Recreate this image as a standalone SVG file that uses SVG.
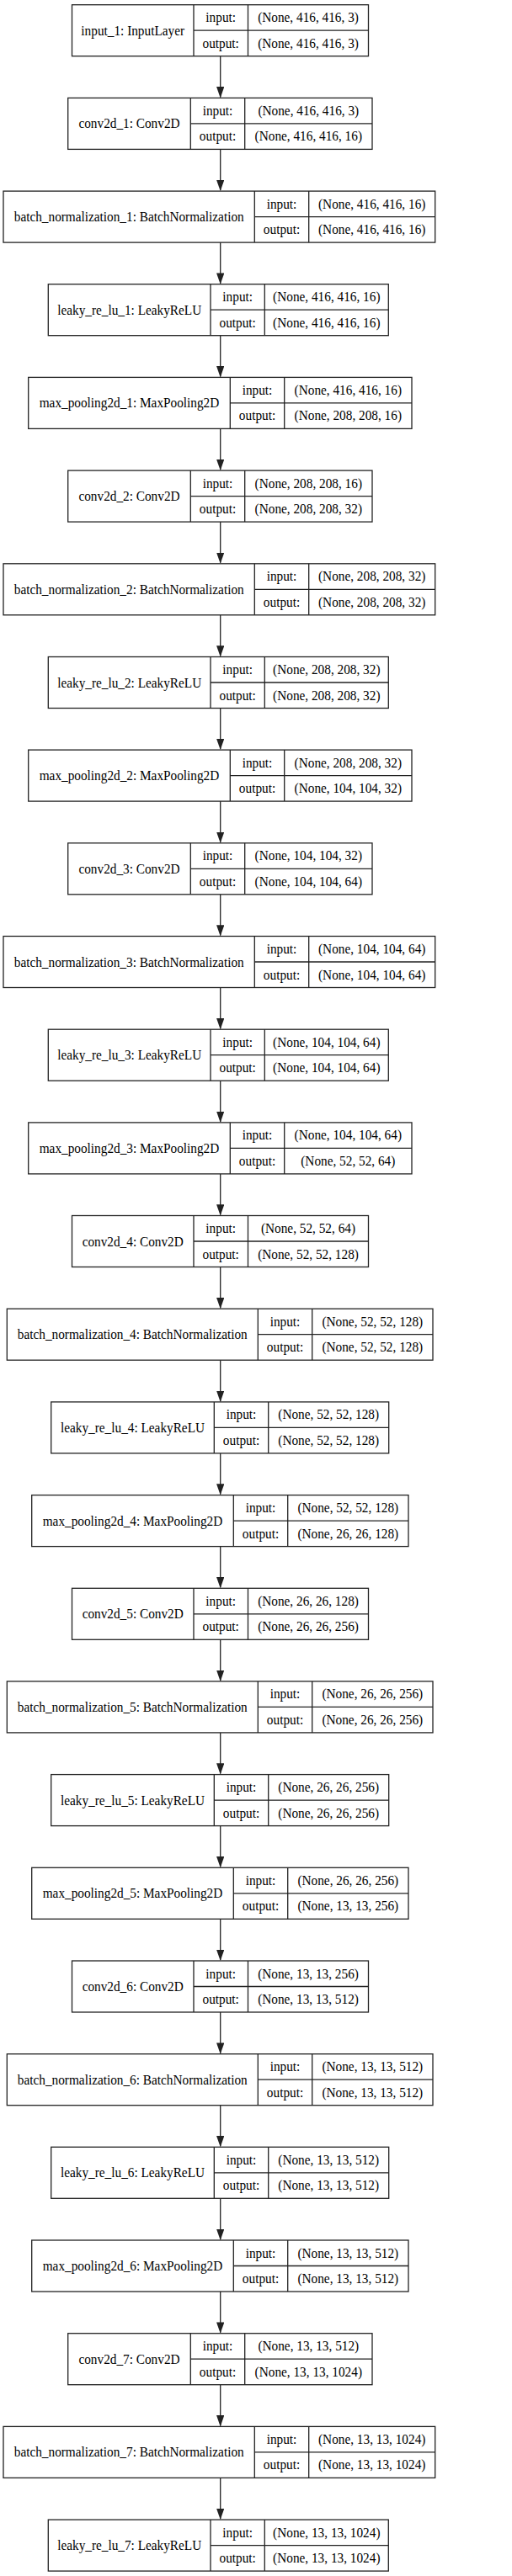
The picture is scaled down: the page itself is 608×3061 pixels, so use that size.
<svg xmlns="http://www.w3.org/2000/svg" width="608" height="3061" viewBox="0 0 608 3061">
<style>
.b{fill:#fff;stroke:#222;stroke-width:1.3}
.l{fill:none;stroke:#222;stroke-width:1.3}
.e{fill:none;stroke:#222;stroke-width:1.3;marker-end:url(#ah)}
text{font-family:"Liberation Serif","Times New Roman",serif;font-size:17px;fill:#000;text-anchor:middle}
</style>
<defs>
<marker id="ah" markerUnits="userSpaceOnUse" markerWidth="14" markerHeight="10" viewBox="0 0 14 10" refX="12.3" refY="4.65" orient="auto"><path d="M0 0L13.3 4.65L0 9.3z" fill="#222"/></marker>
</defs>
<rect width="608" height="3061" fill="#fff"/>
<g id="edges">
<path class="e" d="M261.7 66.7V115.4"/>
<path class="e" d="M261.7 177.4V226.1"/>
<path class="e" d="M261.7 288.1V336.7"/>
<path class="e" d="M261.7 398.7V447.4"/>
<path class="e" d="M261.7 509.4V558.1"/>
<path class="e" d="M261.7 620.1V668.8"/>
<path class="e" d="M261.7 730.8V779.5"/>
<path class="e" d="M261.7 841.5V890.1"/>
<path class="e" d="M261.7 952.1V1000.8"/>
<path class="e" d="M261.7 1062.8V1111.5"/>
<path class="e" d="M261.7 1173.5V1222.2"/>
<path class="e" d="M261.7 1284.2V1332.9"/>
<path class="e" d="M261.7 1394.9V1443.5"/>
<path class="e" d="M261.7 1505.5V1554.2"/>
<path class="e" d="M261.7 1616.2V1664.9"/>
<path class="e" d="M261.7 1726.9V1775.6"/>
<path class="e" d="M261.7 1837.6V1886.3"/>
<path class="e" d="M261.7 1948.3V1996.9"/>
<path class="e" d="M261.7 2058.9V2107.6"/>
<path class="e" d="M261.7 2169.6V2218.3"/>
<path class="e" d="M261.7 2280.3V2329"/>
<path class="e" d="M261.7 2391V2439.7"/>
<path class="e" d="M261.7 2501.7V2550.3"/>
<path class="e" d="M261.7 2612.3V2661"/>
<path class="e" d="M261.7 2723V2771.7"/>
<path class="e" d="M261.7 2833.7V2882.4"/>
<path class="e" d="M261.7 2944.4V2993.1"/>
</g>

<g id="n0" transform="translate(0,5.7)">
<rect class="b" x="85.5" y="0" width="352" height="61"/>
<path class="l" d="M230 0V61M294.5 0V61M230 30.5H437.5"/>
<text transform="translate(157.7,36) scale(.9,1)">input_1: InputLayer</text>
<text transform="translate(262.2,20.5) scale(.9,1)">input:</text>
<text transform="translate(262.2,51) scale(.9,1)">output:</text>
<text transform="translate(366,20.5) scale(.9,1)">(None, 416, 416, 3)</text>
<text transform="translate(366,51) scale(.9,1)">(None, 416, 416, 3)</text>
</g>

<g id="n1" transform="translate(0,116.4)">
<rect class="b" x="80.7" y="0" width="361.3" height="61"/>
<path class="l" d="M226.3 0V61M290.7 0V61M226.3 30.5H442"/>
<text transform="translate(153.5,36) scale(.9,1)">conv2d_1: Conv2D</text>
<text transform="translate(258.5,20.5) scale(.9,1)">input:</text>
<text transform="translate(258.5,51) scale(.9,1)">output:</text>
<text transform="translate(366.3,20.5) scale(.9,1)">(None, 416, 416, 3)</text>
<text transform="translate(366.3,51) scale(.9,1)">(None, 416, 416, 16)</text>
</g>

<g id="n2" transform="translate(0,227.1)">
<rect class="b" x="4" y="0" width="512.7" height="61"/>
<path class="l" d="M302.3 0V61M366.7 0V61M302.3 30.5H516.7"/>
<text transform="translate(153.2,36) scale(.9,1)">batch_normalization_1: BatchNormalization</text>
<text transform="translate(334.5,20.5) scale(.9,1)">input:</text>
<text transform="translate(334.5,51) scale(.9,1)">output:</text>
<text transform="translate(441.7,20.5) scale(.9,1)">(None, 416, 416, 16)</text>
<text transform="translate(441.7,51) scale(.9,1)">(None, 416, 416, 16)</text>
</g>

<g id="n3" transform="translate(0,337.7)">
<rect class="b" x="57.3" y="0" width="404" height="61"/>
<path class="l" d="M250 0V61M314.3 0V61M250 30.5H461.3"/>
<text transform="translate(153.7,36) scale(.9,1)">leaky_re_lu_1: LeakyReLU</text>
<text transform="translate(282.2,20.5) scale(.9,1)">input:</text>
<text transform="translate(282.2,51) scale(.9,1)">output:</text>
<text transform="translate(387.8,20.5) scale(.9,1)">(None, 416, 416, 16)</text>
<text transform="translate(387.8,51) scale(.9,1)">(None, 416, 416, 16)</text>
</g>

<g id="n4" transform="translate(0,448.4)">
<rect class="b" x="33.7" y="0" width="455.3" height="61"/>
<path class="l" d="M273.3 0V61M337.7 0V61M273.3 30.5H489"/>
<text transform="translate(153.5,36) scale(.9,1)">max_pooling2d_1: MaxPooling2D</text>
<text transform="translate(305.5,20.5) scale(.9,1)">input:</text>
<text transform="translate(305.5,51) scale(.9,1)">output:</text>
<text transform="translate(413.3,20.5) scale(.9,1)">(None, 416, 416, 16)</text>
<text transform="translate(413.3,51) scale(.9,1)">(None, 208, 208, 16)</text>
</g>

<g id="n5" transform="translate(0,559.1)">
<rect class="b" x="80.7" y="0" width="361.3" height="61"/>
<path class="l" d="M226.3 0V61M290.7 0V61M226.3 30.5H442"/>
<text transform="translate(153.5,36) scale(.9,1)">conv2d_2: Conv2D</text>
<text transform="translate(258.5,20.5) scale(.9,1)">input:</text>
<text transform="translate(258.5,51) scale(.9,1)">output:</text>
<text transform="translate(366.3,20.5) scale(.9,1)">(None, 208, 208, 16)</text>
<text transform="translate(366.3,51) scale(.9,1)">(None, 208, 208, 32)</text>
</g>

<g id="n6" transform="translate(0,669.8)">
<rect class="b" x="4" y="0" width="512.7" height="61"/>
<path class="l" d="M302.3 0V61M366.7 0V61M302.3 30.5H516.7"/>
<text transform="translate(153.2,36) scale(.9,1)">batch_normalization_2: BatchNormalization</text>
<text transform="translate(334.5,20.5) scale(.9,1)">input:</text>
<text transform="translate(334.5,51) scale(.9,1)">output:</text>
<text transform="translate(441.7,20.5) scale(.9,1)">(None, 208, 208, 32)</text>
<text transform="translate(441.7,51) scale(.9,1)">(None, 208, 208, 32)</text>
</g>

<g id="n7" transform="translate(0,780.5)">
<rect class="b" x="57.3" y="0" width="404" height="61"/>
<path class="l" d="M250 0V61M314.3 0V61M250 30.5H461.3"/>
<text transform="translate(153.7,36) scale(.9,1)">leaky_re_lu_2: LeakyReLU</text>
<text transform="translate(282.2,20.5) scale(.9,1)">input:</text>
<text transform="translate(282.2,51) scale(.9,1)">output:</text>
<text transform="translate(387.8,20.5) scale(.9,1)">(None, 208, 208, 32)</text>
<text transform="translate(387.8,51) scale(.9,1)">(None, 208, 208, 32)</text>
</g>

<g id="n8" transform="translate(0,891.1)">
<rect class="b" x="33.7" y="0" width="455.3" height="61"/>
<path class="l" d="M273.3 0V61M337.7 0V61M273.3 30.5H489"/>
<text transform="translate(153.5,36) scale(.9,1)">max_pooling2d_2: MaxPooling2D</text>
<text transform="translate(305.5,20.5) scale(.9,1)">input:</text>
<text transform="translate(305.5,51) scale(.9,1)">output:</text>
<text transform="translate(413.3,20.5) scale(.9,1)">(None, 208, 208, 32)</text>
<text transform="translate(413.3,51) scale(.9,1)">(None, 104, 104, 32)</text>
</g>

<g id="n9" transform="translate(0,1001.8)">
<rect class="b" x="80.7" y="0" width="361.3" height="61"/>
<path class="l" d="M226.3 0V61M290.7 0V61M226.3 30.5H442"/>
<text transform="translate(153.5,36) scale(.9,1)">conv2d_3: Conv2D</text>
<text transform="translate(258.5,20.5) scale(.9,1)">input:</text>
<text transform="translate(258.5,51) scale(.9,1)">output:</text>
<text transform="translate(366.3,20.5) scale(.9,1)">(None, 104, 104, 32)</text>
<text transform="translate(366.3,51) scale(.9,1)">(None, 104, 104, 64)</text>
</g>

<g id="n10" transform="translate(0,1112.5)">
<rect class="b" x="4" y="0" width="512.7" height="61"/>
<path class="l" d="M302.3 0V61M366.7 0V61M302.3 30.5H516.7"/>
<text transform="translate(153.2,36) scale(.9,1)">batch_normalization_3: BatchNormalization</text>
<text transform="translate(334.5,20.5) scale(.9,1)">input:</text>
<text transform="translate(334.5,51) scale(.9,1)">output:</text>
<text transform="translate(441.7,20.5) scale(.9,1)">(None, 104, 104, 64)</text>
<text transform="translate(441.7,51) scale(.9,1)">(None, 104, 104, 64)</text>
</g>

<g id="n11" transform="translate(0,1223.2)">
<rect class="b" x="57.3" y="0" width="404" height="61"/>
<path class="l" d="M250 0V61M314.3 0V61M250 30.5H461.3"/>
<text transform="translate(153.7,36) scale(.9,1)">leaky_re_lu_3: LeakyReLU</text>
<text transform="translate(282.2,20.5) scale(.9,1)">input:</text>
<text transform="translate(282.2,51) scale(.9,1)">output:</text>
<text transform="translate(387.8,20.5) scale(.9,1)">(None, 104, 104, 64)</text>
<text transform="translate(387.8,51) scale(.9,1)">(None, 104, 104, 64)</text>
</g>

<g id="n12" transform="translate(0,1333.9)">
<rect class="b" x="33.7" y="0" width="455.3" height="61"/>
<path class="l" d="M273.3 0V61M337.7 0V61M273.3 30.5H489"/>
<text transform="translate(153.5,36) scale(.9,1)">max_pooling2d_3: MaxPooling2D</text>
<text transform="translate(305.5,20.5) scale(.9,1)">input:</text>
<text transform="translate(305.5,51) scale(.9,1)">output:</text>
<text transform="translate(413.3,20.5) scale(.9,1)">(None, 104, 104, 64)</text>
<text transform="translate(413.3,51) scale(.9,1)">(None, 52, 52, 64)</text>
</g>

<g id="n13" transform="translate(0,1444.5)">
<rect class="b" x="85.5" y="0" width="352" height="61"/>
<path class="l" d="M230 0V61M294.5 0V61M230 30.5H437.5"/>
<text transform="translate(157.7,36) scale(.9,1)">conv2d_4: Conv2D</text>
<text transform="translate(262.2,20.5) scale(.9,1)">input:</text>
<text transform="translate(262.2,51) scale(.9,1)">output:</text>
<text transform="translate(366,20.5) scale(.9,1)">(None, 52, 52, 64)</text>
<text transform="translate(366,51) scale(.9,1)">(None, 52, 52, 128)</text>
</g>

<g id="n14" transform="translate(0,1555.2)">
<rect class="b" x="8.3" y="0" width="505.7" height="61"/>
<path class="l" d="M306.3 0V61M370.7 0V61M306.3 30.5H514"/>
<text transform="translate(157.3,36) scale(.9,1)">batch_normalization_4: BatchNormalization</text>
<text transform="translate(338.5,20.5) scale(.9,1)">input:</text>
<text transform="translate(338.5,51) scale(.9,1)">output:</text>
<text transform="translate(442.3,20.5) scale(.9,1)">(None, 52, 52, 128)</text>
<text transform="translate(442.3,51) scale(.9,1)">(None, 52, 52, 128)</text>
</g>

<g id="n15" transform="translate(0,1665.9)">
<rect class="b" x="60.7" y="0" width="401" height="61"/>
<path class="l" d="M254.3 0V61M318.7 0V61M254.3 30.5H461.7"/>
<text transform="translate(157.5,36) scale(.9,1)">leaky_re_lu_4: LeakyReLU</text>
<text transform="translate(286.5,20.5) scale(.9,1)">input:</text>
<text transform="translate(286.5,51) scale(.9,1)">output:</text>
<text transform="translate(390.2,20.5) scale(.9,1)">(None, 52, 52, 128)</text>
<text transform="translate(390.2,51) scale(.9,1)">(None, 52, 52, 128)</text>
</g>

<g id="n16" transform="translate(0,1776.6)">
<rect class="b" x="37.7" y="0" width="447.3" height="61"/>
<path class="l" d="M277.3 0V61M341.7 0V61M277.3 30.5H485"/>
<text transform="translate(157.5,36) scale(.9,1)">max_pooling2d_4: MaxPooling2D</text>
<text transform="translate(309.5,20.5) scale(.9,1)">input:</text>
<text transform="translate(309.5,51) scale(.9,1)">output:</text>
<text transform="translate(413.3,20.5) scale(.9,1)">(None, 52, 52, 128)</text>
<text transform="translate(413.3,51) scale(.9,1)">(None, 26, 26, 128)</text>
</g>

<g id="n17" transform="translate(0,1887.3)">
<rect class="b" x="85.5" y="0" width="352" height="61"/>
<path class="l" d="M230 0V61M294.5 0V61M230 30.5H437.5"/>
<text transform="translate(157.7,36) scale(.9,1)">conv2d_5: Conv2D</text>
<text transform="translate(262.2,20.5) scale(.9,1)">input:</text>
<text transform="translate(262.2,51) scale(.9,1)">output:</text>
<text transform="translate(366,20.5) scale(.9,1)">(None, 26, 26, 128)</text>
<text transform="translate(366,51) scale(.9,1)">(None, 26, 26, 256)</text>
</g>

<g id="n18" transform="translate(0,1997.9)">
<rect class="b" x="8.3" y="0" width="505.7" height="61"/>
<path class="l" d="M306.3 0V61M370.7 0V61M306.3 30.5H514"/>
<text transform="translate(157.3,36) scale(.9,1)">batch_normalization_5: BatchNormalization</text>
<text transform="translate(338.5,20.5) scale(.9,1)">input:</text>
<text transform="translate(338.5,51) scale(.9,1)">output:</text>
<text transform="translate(442.3,20.5) scale(.9,1)">(None, 26, 26, 256)</text>
<text transform="translate(442.3,51) scale(.9,1)">(None, 26, 26, 256)</text>
</g>

<g id="n19" transform="translate(0,2108.6)">
<rect class="b" x="60.7" y="0" width="401" height="61"/>
<path class="l" d="M254.3 0V61M318.7 0V61M254.3 30.5H461.7"/>
<text transform="translate(157.5,36) scale(.9,1)">leaky_re_lu_5: LeakyReLU</text>
<text transform="translate(286.5,20.5) scale(.9,1)">input:</text>
<text transform="translate(286.5,51) scale(.9,1)">output:</text>
<text transform="translate(390.2,20.5) scale(.9,1)">(None, 26, 26, 256)</text>
<text transform="translate(390.2,51) scale(.9,1)">(None, 26, 26, 256)</text>
</g>

<g id="n20" transform="translate(0,2219.3)">
<rect class="b" x="37.7" y="0" width="447.3" height="61"/>
<path class="l" d="M277.3 0V61M341.7 0V61M277.3 30.5H485"/>
<text transform="translate(157.5,36) scale(.9,1)">max_pooling2d_5: MaxPooling2D</text>
<text transform="translate(309.5,20.5) scale(.9,1)">input:</text>
<text transform="translate(309.5,51) scale(.9,1)">output:</text>
<text transform="translate(413.3,20.5) scale(.9,1)">(None, 26, 26, 256)</text>
<text transform="translate(413.3,51) scale(.9,1)">(None, 13, 13, 256)</text>
</g>

<g id="n21" transform="translate(0,2330)">
<rect class="b" x="85.5" y="0" width="352" height="61"/>
<path class="l" d="M230 0V61M294.5 0V61M230 30.5H437.5"/>
<text transform="translate(157.7,36) scale(.9,1)">conv2d_6: Conv2D</text>
<text transform="translate(262.2,20.5) scale(.9,1)">input:</text>
<text transform="translate(262.2,51) scale(.9,1)">output:</text>
<text transform="translate(366,20.5) scale(.9,1)">(None, 13, 13, 256)</text>
<text transform="translate(366,51) scale(.9,1)">(None, 13, 13, 512)</text>
</g>

<g id="n22" transform="translate(0,2440.7)">
<rect class="b" x="8.3" y="0" width="505.7" height="61"/>
<path class="l" d="M306.3 0V61M370.7 0V61M306.3 30.5H514"/>
<text transform="translate(157.3,36) scale(.9,1)">batch_normalization_6: BatchNormalization</text>
<text transform="translate(338.5,20.5) scale(.9,1)">input:</text>
<text transform="translate(338.5,51) scale(.9,1)">output:</text>
<text transform="translate(442.3,20.5) scale(.9,1)">(None, 13, 13, 512)</text>
<text transform="translate(442.3,51) scale(.9,1)">(None, 13, 13, 512)</text>
</g>

<g id="n23" transform="translate(0,2551.3)">
<rect class="b" x="60.7" y="0" width="401" height="61"/>
<path class="l" d="M254.3 0V61M318.7 0V61M254.3 30.5H461.7"/>
<text transform="translate(157.5,36) scale(.9,1)">leaky_re_lu_6: LeakyReLU</text>
<text transform="translate(286.5,20.5) scale(.9,1)">input:</text>
<text transform="translate(286.5,51) scale(.9,1)">output:</text>
<text transform="translate(390.2,20.5) scale(.9,1)">(None, 13, 13, 512)</text>
<text transform="translate(390.2,51) scale(.9,1)">(None, 13, 13, 512)</text>
</g>

<g id="n24" transform="translate(0,2662)">
<rect class="b" x="37.7" y="0" width="447.3" height="61"/>
<path class="l" d="M277.3 0V61M341.7 0V61M277.3 30.5H485"/>
<text transform="translate(157.5,36) scale(.9,1)">max_pooling2d_6: MaxPooling2D</text>
<text transform="translate(309.5,20.5) scale(.9,1)">input:</text>
<text transform="translate(309.5,51) scale(.9,1)">output:</text>
<text transform="translate(413.3,20.5) scale(.9,1)">(None, 13, 13, 512)</text>
<text transform="translate(413.3,51) scale(.9,1)">(None, 13, 13, 512)</text>
</g>

<g id="n25" transform="translate(0,2772.7)">
<rect class="b" x="80.7" y="0" width="361.3" height="61"/>
<path class="l" d="M226.3 0V61M290.7 0V61M226.3 30.5H442"/>
<text transform="translate(153.5,36) scale(.9,1)">conv2d_7: Conv2D</text>
<text transform="translate(258.5,20.5) scale(.9,1)">input:</text>
<text transform="translate(258.5,51) scale(.9,1)">output:</text>
<text transform="translate(366.3,20.5) scale(.9,1)">(None, 13, 13, 512)</text>
<text transform="translate(366.3,51) scale(.9,1)">(None, 13, 13, 1024)</text>
</g>

<g id="n26" transform="translate(0,2883.4)">
<rect class="b" x="4" y="0" width="512.7" height="61"/>
<path class="l" d="M302.3 0V61M366.7 0V61M302.3 30.5H516.7"/>
<text transform="translate(153.2,36) scale(.9,1)">batch_normalization_7: BatchNormalization</text>
<text transform="translate(334.5,20.5) scale(.9,1)">input:</text>
<text transform="translate(334.5,51) scale(.9,1)">output:</text>
<text transform="translate(441.7,20.5) scale(.9,1)">(None, 13, 13, 1024)</text>
<text transform="translate(441.7,51) scale(.9,1)">(None, 13, 13, 1024)</text>
</g>

<g id="n27" transform="translate(0,2994.1)">
<rect class="b" x="57.3" y="0" width="404" height="61"/>
<path class="l" d="M250 0V61M314.3 0V61M250 30.5H461.3"/>
<text transform="translate(153.7,36) scale(.9,1)">leaky_re_lu_7: LeakyReLU</text>
<text transform="translate(282.2,20.5) scale(.9,1)">input:</text>
<text transform="translate(282.2,51) scale(.9,1)">output:</text>
<text transform="translate(387.8,20.5) scale(.9,1)">(None, 13, 13, 1024)</text>
<text transform="translate(387.8,51) scale(.9,1)">(None, 13, 13, 1024)</text>
</g>
</svg>
